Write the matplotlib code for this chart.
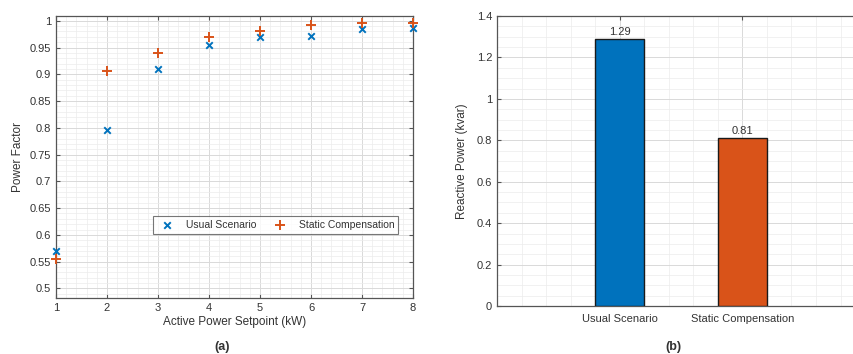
import numpy as np
import matplotlib.pyplot as plt
from matplotlib.ticker import MultipleLocator

plt.rcParams['font.family'] = ['Liberation Sans', 'DejaVu Sans']

# (a) power factor vs. active power setpoint
setpoint_kw = [1, 2, 3, 4, 5, 6, 7, 8]
pf_usual = [0.570, 0.796, 0.909, 0.954, 0.970, 0.972, 0.985, 0.987]
pf_static = [0.555, 0.907, 0.940, 0.969, 0.980, 0.992, 0.996, 0.996]

# (b) reactive power
scenarios = ["Usual Scenario", "Static Compensation"]
reactive_kvar = [1.29, 0.81]

BLUE = "#0072BD"
ORANGE = "#D95319"
AX_COL = "#555555"
TXT_COL = "#333333"

fig = plt.figure(figsize=(8.54, 3.54), dpi=100)
ax1 = fig.add_axes([0.0656, 0.158, 0.418, 0.797])
ax2 = fig.add_axes([0.582, 0.1356, 0.431, 0.819])


def style(ax):
    ax.set_axisbelow(True)
    ax.minorticks_on()
    ax.grid(which="major", color="#d9d9d9", lw=0.7)
    ax.grid(which="minor", color="#ececec", lw=0.5)
    for s in ax.spines.values():
        s.set_color(AX_COL)
        s.set_linewidth(0.9)
    ax.tick_params(which="both", direction="in", top=True, right=True,
                   colors=AX_COL, labelcolor=TXT_COL, labelsize=8)
    ax.tick_params(which="major", length=3)
    ax.tick_params(which="minor", length=0)


# left panel
ax1.scatter(setpoint_kw, pf_usual, marker="x", s=22, color=BLUE, lw=1.4,
            label="Usual Scenario", clip_on=False, zorder=3)
ax1.scatter(setpoint_kw, pf_static, marker="+", s=45, color=ORANGE, lw=1.4,
            label="Static Compensation", clip_on=False, zorder=3)
ax1.set_xlim(1, 8)
ax1.set_ylim(0.482, 1.009)
ax1.xaxis.set_major_locator(MultipleLocator(1))
ax1.xaxis.set_minor_locator(MultipleLocator(0.2))
ax1.yaxis.set_minor_locator(MultipleLocator(0.01))
ax1.set_yticks(np.arange(0.5, 1.001, 0.05))
ax1.set_yticklabels(["0.5", "0.55", "0.6", "0.65", "0.7", "0.75", "0.8",
                     "0.85", "0.9", "0.95", "1"])
style(ax1)
ax1.set_xlabel("Active Power Setpoint (kW)", fontsize=8.5, color=TXT_COL, labelpad=2)
ax1.set_ylabel("Power Factor", fontsize=8.5, color=TXT_COL, labelpad=4)
leg = ax1.legend(ncol=2, loc="lower left", bbox_to_anchor=(0.272, 0.228, 0.686, 0.06),
                 mode="expand", fontsize=7.5, frameon=True, fancybox=False,
                 borderpad=0.35, handletextpad=0.8, columnspacing=1.5,
                 borderaxespad=0)
leg.get_frame().set_edgecolor(AX_COL)
leg.get_frame().set_linewidth(0.8)
for t in leg.get_texts():
    t.set_color(TXT_COL)

# right panel
pos = np.arange(1, len(scenarios) + 1)
bars = ax2.bar(pos, reactive_kvar, width=0.4, color=[BLUE, ORANGE],
               edgecolor="#1a1a1a", linewidth=1.0, zorder=3)
for b, v in zip(bars, reactive_kvar):
    ax2.text(b.get_x() + b.get_width() / 2, v + 0.01, f"{v:.2f}",
             ha="center", va="bottom", fontsize=8, color=TXT_COL)
ax2.set_xlim(0, 3)
ax2.set_ylim(0, 1.4)
ax2.set_xticks(pos)
ax2.set_xticklabels(scenarios)
ax2.xaxis.set_minor_locator(MultipleLocator(0.2))
ax2.yaxis.set_minor_locator(MultipleLocator(0.05))
ax2.set_yticks(np.arange(0, 1.41, 0.2))
ax2.set_yticklabels(["0", "0.2", "0.4", "0.6", "0.8", "1", "1.2", "1.4"])
style(ax2)
ax2.tick_params(axis="x", pad=6)
ax2.set_ylabel("Reactive Power (kvar)", fontsize=8.5, color=TXT_COL, labelpad=6)

fig.text(0.26, 0.012, "(a)", fontsize=9, fontweight="bold", ha="center", color=TXT_COL)
fig.text(0.789, 0.012, "(b)", fontsize=9, fontweight="bold", ha="center", color=TXT_COL)

fig.savefig("out.png", dpi=100)
